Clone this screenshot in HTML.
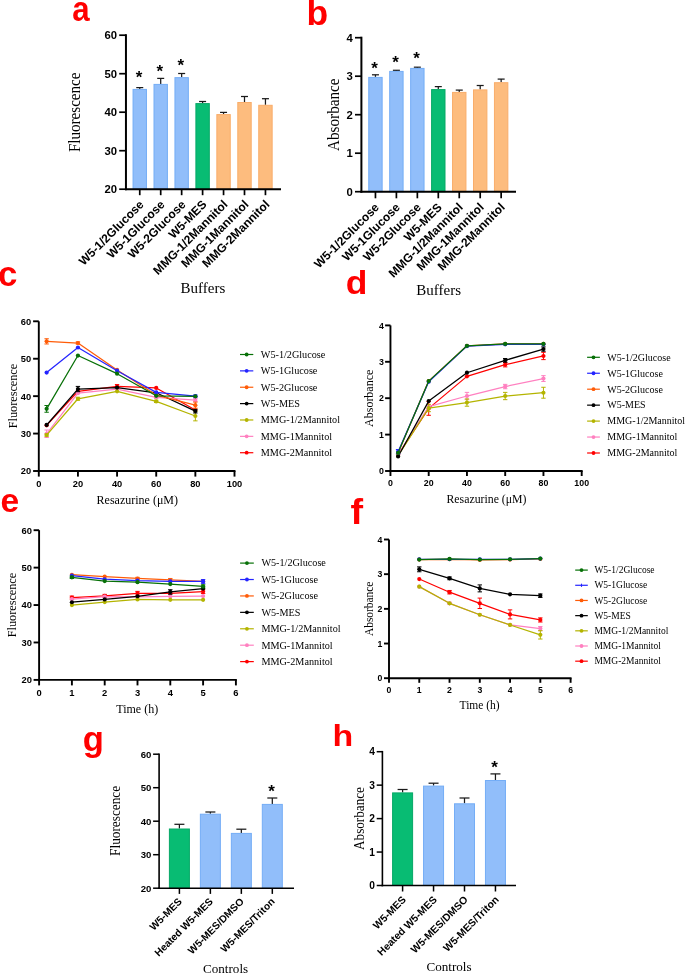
<!DOCTYPE html>
<html><head><meta charset="utf-8"><style>
html,body{margin:0;padding:0;background:#fff;}
body{width:685px;height:974px;overflow:hidden;font-family:"Liberation Sans",sans-serif;}
svg{display:block;will-change:transform;}
</style></head><body>
<svg width="685" height="974" viewBox="0 0 685 974">
<rect width="685" height="974" fill="#fff"/>
<text transform="translate(72.16 20.95) scale(0.8804 1)" x="0" y="0" font-family="Liberation Sans" font-size="35.45" font-weight="bold" fill="#ff0000">a</text>
<line x1="139.75" y1="87.60" x2="139.75" y2="88.90" stroke="#1a1a1a" stroke-width="1.25" stroke-linecap="butt"/>
<line x1="136.25" y1="87.60" x2="143.25" y2="87.60" stroke="#1a1a1a" stroke-width="1.25" stroke-linecap="butt"/>
<rect x="133.05" y="89.40" width="13.40" height="99.80" fill="#91befa" stroke="#74adf6" stroke-width="1"/>
<line x1="160.70" y1="78.40" x2="160.70" y2="83.90" stroke="#1a1a1a" stroke-width="1.25" stroke-linecap="butt"/>
<line x1="157.20" y1="78.40" x2="164.20" y2="78.40" stroke="#1a1a1a" stroke-width="1.25" stroke-linecap="butt"/>
<rect x="154.00" y="84.40" width="13.40" height="104.80" fill="#91befa" stroke="#74adf6" stroke-width="1"/>
<line x1="181.65" y1="73.50" x2="181.65" y2="77.15" stroke="#1a1a1a" stroke-width="1.25" stroke-linecap="butt"/>
<line x1="178.15" y1="73.50" x2="185.15" y2="73.50" stroke="#1a1a1a" stroke-width="1.25" stroke-linecap="butt"/>
<rect x="174.95" y="77.65" width="13.40" height="111.55" fill="#91befa" stroke="#74adf6" stroke-width="1"/>
<line x1="202.60" y1="101.50" x2="202.60" y2="103.10" stroke="#1a1a1a" stroke-width="1.25" stroke-linecap="butt"/>
<line x1="199.10" y1="101.50" x2="206.10" y2="101.50" stroke="#1a1a1a" stroke-width="1.25" stroke-linecap="butt"/>
<rect x="195.90" y="103.60" width="13.40" height="85.60" fill="#08bc73" stroke="#06a866" stroke-width="1"/>
<line x1="223.55" y1="112.40" x2="223.55" y2="114.10" stroke="#1a1a1a" stroke-width="1.25" stroke-linecap="butt"/>
<line x1="220.05" y1="112.40" x2="227.05" y2="112.40" stroke="#1a1a1a" stroke-width="1.25" stroke-linecap="butt"/>
<rect x="216.85" y="114.60" width="13.40" height="74.60" fill="#fdbc7e" stroke="#f9ad6a" stroke-width="1"/>
<line x1="244.50" y1="96.50" x2="244.50" y2="102.00" stroke="#1a1a1a" stroke-width="1.25" stroke-linecap="butt"/>
<line x1="241.00" y1="96.50" x2="248.00" y2="96.50" stroke="#1a1a1a" stroke-width="1.25" stroke-linecap="butt"/>
<rect x="237.80" y="102.50" width="13.40" height="86.70" fill="#fdbc7e" stroke="#f9ad6a" stroke-width="1"/>
<line x1="265.45" y1="98.70" x2="265.45" y2="104.80" stroke="#1a1a1a" stroke-width="1.25" stroke-linecap="butt"/>
<line x1="261.95" y1="98.70" x2="268.95" y2="98.70" stroke="#1a1a1a" stroke-width="1.25" stroke-linecap="butt"/>
<rect x="258.75" y="105.30" width="13.40" height="83.90" fill="#fdbc7e" stroke="#f9ad6a" stroke-width="1"/>
<line x1="125.95" y1="34.20" x2="125.95" y2="190.20" stroke="#000" stroke-width="2" stroke-linecap="butt"/>
<line x1="124.95" y1="189.20" x2="281.00" y2="189.20" stroke="#000" stroke-width="2" stroke-linecap="butt"/>
<line x1="119.20" y1="189.20" x2="125.95" y2="189.20" stroke="#000" stroke-width="1.7" stroke-linecap="butt"/>
<text x="117.00" y="193.27" font-family="'Liberation Sans'" font-size="11.3" font-weight="bold" text-anchor="end" fill="#000">20</text>
<line x1="119.20" y1="150.70" x2="125.95" y2="150.70" stroke="#000" stroke-width="1.7" stroke-linecap="butt"/>
<text x="117.00" y="154.77" font-family="'Liberation Sans'" font-size="11.3" font-weight="bold" text-anchor="end" fill="#000">30</text>
<line x1="119.20" y1="112.20" x2="125.95" y2="112.20" stroke="#000" stroke-width="1.7" stroke-linecap="butt"/>
<text x="117.00" y="116.27" font-family="'Liberation Sans'" font-size="11.3" font-weight="bold" text-anchor="end" fill="#000">40</text>
<line x1="119.20" y1="73.70" x2="125.95" y2="73.70" stroke="#000" stroke-width="1.7" stroke-linecap="butt"/>
<text x="117.00" y="77.77" font-family="'Liberation Sans'" font-size="11.3" font-weight="bold" text-anchor="end" fill="#000">50</text>
<line x1="119.20" y1="35.20" x2="125.95" y2="35.20" stroke="#000" stroke-width="1.7" stroke-linecap="butt"/>
<text x="117.00" y="39.27" font-family="'Liberation Sans'" font-size="11.3" font-weight="bold" text-anchor="end" fill="#000">60</text>
<line x1="139.75" y1="189.20" x2="139.75" y2="195.20" stroke="#000" stroke-width="1.7" stroke-linecap="butt"/>
<text x="138.95" y="82.80" font-family="'Liberation Sans'" font-size="17" font-weight="bold" text-anchor="middle" fill="#000">*</text>
<text x="144.55" y="205.20" font-family="'Liberation Sans'" font-size="12" font-weight="bold" text-anchor="end" fill="#000" transform="rotate(-45 144.55 205.2)">W5-1/2Glucose</text>
<line x1="160.70" y1="189.20" x2="160.70" y2="195.20" stroke="#000" stroke-width="1.7" stroke-linecap="butt"/>
<text x="159.90" y="77.00" font-family="'Liberation Sans'" font-size="17" font-weight="bold" text-anchor="middle" fill="#000">*</text>
<text x="165.50" y="205.20" font-family="'Liberation Sans'" font-size="12" font-weight="bold" text-anchor="end" fill="#000" transform="rotate(-45 165.5 205.2)">W5-1Glucose</text>
<line x1="181.65" y1="189.20" x2="181.65" y2="195.20" stroke="#000" stroke-width="1.7" stroke-linecap="butt"/>
<text x="180.85" y="71.20" font-family="'Liberation Sans'" font-size="17" font-weight="bold" text-anchor="middle" fill="#000">*</text>
<text x="186.45" y="205.20" font-family="'Liberation Sans'" font-size="12" font-weight="bold" text-anchor="end" fill="#000" transform="rotate(-45 186.45000000000002 205.2)">W5-2Glucose</text>
<line x1="202.60" y1="189.20" x2="202.60" y2="195.20" stroke="#000" stroke-width="1.7" stroke-linecap="butt"/>
<text x="207.40" y="205.20" font-family="'Liberation Sans'" font-size="12" font-weight="bold" text-anchor="end" fill="#000" transform="rotate(-45 207.4 205.2)">W5-MES</text>
<line x1="223.55" y1="189.20" x2="223.55" y2="195.20" stroke="#000" stroke-width="1.7" stroke-linecap="butt"/>
<text x="228.35" y="205.20" font-family="'Liberation Sans'" font-size="12" font-weight="bold" text-anchor="end" fill="#000" transform="rotate(-45 228.35000000000002 205.2)">MMG-1/2Mannitol</text>
<line x1="244.50" y1="189.20" x2="244.50" y2="195.20" stroke="#000" stroke-width="1.7" stroke-linecap="butt"/>
<text x="249.30" y="205.20" font-family="'Liberation Sans'" font-size="12" font-weight="bold" text-anchor="end" fill="#000" transform="rotate(-45 249.3 205.2)">MMG-1Mannitol</text>
<line x1="265.45" y1="189.20" x2="265.45" y2="195.20" stroke="#000" stroke-width="1.7" stroke-linecap="butt"/>
<text x="270.25" y="205.20" font-family="'Liberation Sans'" font-size="12" font-weight="bold" text-anchor="end" fill="#000" transform="rotate(-45 270.25 205.2)">MMG-2Mannitol</text>
<text transform="translate(80.00 112.30) scale(1.08 1) rotate(-90)" x="0" y="0" font-family="Liberation Serif" font-size="15.1" text-anchor="middle" fill="#000">Fluorescence</text>
<text x="202.90" y="292.60" font-family="'Liberation Serif'" font-size="15" font-weight="normal" text-anchor="middle" fill="#000">Buffers</text>
<text transform="translate(306.60 24.65) scale(1.0217 1)" x="0" y="0" font-family="Liberation Sans" font-size="34.69" font-weight="bold" fill="#ff0000">b</text>
<line x1="375.45" y1="74.80" x2="375.45" y2="76.90" stroke="#1a1a1a" stroke-width="1.25" stroke-linecap="butt"/>
<line x1="371.95" y1="74.80" x2="378.95" y2="74.80" stroke="#1a1a1a" stroke-width="1.25" stroke-linecap="butt"/>
<rect x="368.75" y="77.40" width="13.40" height="114.30" fill="#91befa" stroke="#74adf6" stroke-width="1"/>
<line x1="396.40" y1="70.30" x2="396.40" y2="70.90" stroke="#1a1a1a" stroke-width="1.25" stroke-linecap="butt"/>
<line x1="392.90" y1="70.30" x2="399.90" y2="70.30" stroke="#1a1a1a" stroke-width="1.25" stroke-linecap="butt"/>
<rect x="389.70" y="71.40" width="13.40" height="120.30" fill="#91befa" stroke="#74adf6" stroke-width="1"/>
<line x1="417.35" y1="67.20" x2="417.35" y2="67.90" stroke="#1a1a1a" stroke-width="1.25" stroke-linecap="butt"/>
<line x1="413.85" y1="67.20" x2="420.85" y2="67.20" stroke="#1a1a1a" stroke-width="1.25" stroke-linecap="butt"/>
<rect x="410.65" y="68.40" width="13.40" height="123.30" fill="#91befa" stroke="#74adf6" stroke-width="1"/>
<line x1="438.30" y1="86.60" x2="438.30" y2="89.10" stroke="#1a1a1a" stroke-width="1.25" stroke-linecap="butt"/>
<line x1="434.80" y1="86.60" x2="441.80" y2="86.60" stroke="#1a1a1a" stroke-width="1.25" stroke-linecap="butt"/>
<rect x="431.60" y="89.60" width="13.40" height="102.10" fill="#08bc73" stroke="#06a866" stroke-width="1"/>
<line x1="459.25" y1="90.10" x2="459.25" y2="91.90" stroke="#1a1a1a" stroke-width="1.25" stroke-linecap="butt"/>
<line x1="455.75" y1="90.10" x2="462.75" y2="90.10" stroke="#1a1a1a" stroke-width="1.25" stroke-linecap="butt"/>
<rect x="452.55" y="92.40" width="13.40" height="99.30" fill="#fdbc7e" stroke="#f9ad6a" stroke-width="1"/>
<line x1="480.20" y1="85.50" x2="480.20" y2="89.40" stroke="#1a1a1a" stroke-width="1.25" stroke-linecap="butt"/>
<line x1="476.70" y1="85.50" x2="483.70" y2="85.50" stroke="#1a1a1a" stroke-width="1.25" stroke-linecap="butt"/>
<rect x="473.50" y="89.90" width="13.40" height="101.80" fill="#fdbc7e" stroke="#f9ad6a" stroke-width="1"/>
<line x1="501.15" y1="79.10" x2="501.15" y2="82.20" stroke="#1a1a1a" stroke-width="1.25" stroke-linecap="butt"/>
<line x1="497.65" y1="79.10" x2="504.65" y2="79.10" stroke="#1a1a1a" stroke-width="1.25" stroke-linecap="butt"/>
<rect x="494.45" y="82.70" width="13.40" height="109.00" fill="#fdbc7e" stroke="#f9ad6a" stroke-width="1"/>
<line x1="361.40" y1="36.70" x2="361.40" y2="192.70" stroke="#000" stroke-width="2" stroke-linecap="butt"/>
<line x1="360.40" y1="191.70" x2="516.00" y2="191.70" stroke="#000" stroke-width="2" stroke-linecap="butt"/>
<line x1="355.00" y1="191.70" x2="361.40" y2="191.70" stroke="#000" stroke-width="1.7" stroke-linecap="butt"/>
<text x="352.80" y="195.77" font-family="'Liberation Sans'" font-size="11.3" font-weight="bold" text-anchor="end" fill="#000">0</text>
<line x1="355.00" y1="153.20" x2="361.40" y2="153.20" stroke="#000" stroke-width="1.7" stroke-linecap="butt"/>
<text x="352.80" y="157.27" font-family="'Liberation Sans'" font-size="11.3" font-weight="bold" text-anchor="end" fill="#000">1</text>
<line x1="355.00" y1="114.70" x2="361.40" y2="114.70" stroke="#000" stroke-width="1.7" stroke-linecap="butt"/>
<text x="352.80" y="118.77" font-family="'Liberation Sans'" font-size="11.3" font-weight="bold" text-anchor="end" fill="#000">2</text>
<line x1="355.00" y1="76.20" x2="361.40" y2="76.20" stroke="#000" stroke-width="1.7" stroke-linecap="butt"/>
<text x="352.80" y="80.27" font-family="'Liberation Sans'" font-size="11.3" font-weight="bold" text-anchor="end" fill="#000">3</text>
<line x1="355.00" y1="37.70" x2="361.40" y2="37.70" stroke="#000" stroke-width="1.7" stroke-linecap="butt"/>
<text x="352.80" y="41.77" font-family="'Liberation Sans'" font-size="11.3" font-weight="bold" text-anchor="end" fill="#000">4</text>
<line x1="375.45" y1="191.70" x2="375.45" y2="198.30" stroke="#000" stroke-width="1.7" stroke-linecap="butt"/>
<text x="374.65" y="73.50" font-family="'Liberation Sans'" font-size="17" font-weight="bold" text-anchor="middle" fill="#000">*</text>
<text x="379.85" y="208.00" font-family="'Liberation Sans'" font-size="12" font-weight="bold" text-anchor="end" fill="#000" transform="rotate(-45 379.84999999999997 208.0)">W5-1/2Glucose</text>
<line x1="396.40" y1="191.70" x2="396.40" y2="198.30" stroke="#000" stroke-width="1.7" stroke-linecap="butt"/>
<text x="395.60" y="68.30" font-family="'Liberation Sans'" font-size="17" font-weight="bold" text-anchor="middle" fill="#000">*</text>
<text x="400.80" y="208.00" font-family="'Liberation Sans'" font-size="12" font-weight="bold" text-anchor="end" fill="#000" transform="rotate(-45 400.79999999999995 208.0)">W5-1Glucose</text>
<line x1="417.35" y1="191.70" x2="417.35" y2="198.30" stroke="#000" stroke-width="1.7" stroke-linecap="butt"/>
<text x="416.55" y="63.50" font-family="'Liberation Sans'" font-size="17" font-weight="bold" text-anchor="middle" fill="#000">*</text>
<text x="421.75" y="208.00" font-family="'Liberation Sans'" font-size="12" font-weight="bold" text-anchor="end" fill="#000" transform="rotate(-45 421.74999999999994 208.0)">W5-2Glucose</text>
<line x1="438.30" y1="191.70" x2="438.30" y2="198.30" stroke="#000" stroke-width="1.7" stroke-linecap="butt"/>
<text x="442.70" y="208.00" font-family="'Liberation Sans'" font-size="12" font-weight="bold" text-anchor="end" fill="#000" transform="rotate(-45 442.69999999999993 208.0)">W5-MES</text>
<line x1="459.25" y1="191.70" x2="459.25" y2="198.30" stroke="#000" stroke-width="1.7" stroke-linecap="butt"/>
<text x="463.65" y="208.00" font-family="'Liberation Sans'" font-size="12" font-weight="bold" text-anchor="end" fill="#000" transform="rotate(-45 463.65 208.0)">MMG-1/2Mannitol</text>
<line x1="480.20" y1="191.70" x2="480.20" y2="198.30" stroke="#000" stroke-width="1.7" stroke-linecap="butt"/>
<text x="484.60" y="208.00" font-family="'Liberation Sans'" font-size="12" font-weight="bold" text-anchor="end" fill="#000" transform="rotate(-45 484.59999999999997 208.0)">MMG-1Mannitol</text>
<line x1="501.15" y1="191.70" x2="501.15" y2="198.30" stroke="#000" stroke-width="1.7" stroke-linecap="butt"/>
<text x="505.55" y="208.00" font-family="'Liberation Sans'" font-size="12" font-weight="bold" text-anchor="end" fill="#000" transform="rotate(-45 505.54999999999995 208.0)">MMG-2Mannitol</text>
<text transform="translate(339.40 114.70) scale(1.08 1) rotate(-90)" x="0" y="0" font-family="Liberation Serif" font-size="15.2" text-anchor="middle" fill="#000">Absorbance</text>
<text x="438.70" y="295.20" font-family="'Liberation Serif'" font-size="15" font-weight="normal" text-anchor="middle" fill="#000">Buffers</text>
<text transform="translate(-2.09 285.85) scale(0.9982 1)" x="0" y="0" font-family="Liberation Sans" font-size="34.91" font-weight="bold" fill="#ff0000">c</text>
<line x1="38.80" y1="321.30" x2="38.80" y2="471.95" stroke="#000" stroke-width="1.9" stroke-linecap="butt"/>
<line x1="37.85" y1="471.00" x2="235.45" y2="471.00" stroke="#000" stroke-width="1.9" stroke-linecap="butt"/>
<line x1="33.10" y1="471.00" x2="38.80" y2="471.00" stroke="#000" stroke-width="1.9" stroke-linecap="butt"/>
<text x="31.10" y="474.35" font-family="'Liberation Sans'" font-size="9.3" font-weight="bold" text-anchor="end" fill="#000">20</text>
<line x1="33.10" y1="433.57" x2="38.80" y2="433.57" stroke="#000" stroke-width="1.9" stroke-linecap="butt"/>
<text x="31.10" y="436.92" font-family="'Liberation Sans'" font-size="9.3" font-weight="bold" text-anchor="end" fill="#000">30</text>
<line x1="33.10" y1="396.15" x2="38.80" y2="396.15" stroke="#000" stroke-width="1.9" stroke-linecap="butt"/>
<text x="31.10" y="399.50" font-family="'Liberation Sans'" font-size="9.3" font-weight="bold" text-anchor="end" fill="#000">40</text>
<line x1="33.10" y1="358.73" x2="38.80" y2="358.73" stroke="#000" stroke-width="1.9" stroke-linecap="butt"/>
<text x="31.10" y="362.07" font-family="'Liberation Sans'" font-size="9.3" font-weight="bold" text-anchor="end" fill="#000">50</text>
<line x1="33.10" y1="321.30" x2="38.80" y2="321.30" stroke="#000" stroke-width="1.9" stroke-linecap="butt"/>
<text x="31.10" y="324.65" font-family="'Liberation Sans'" font-size="9.3" font-weight="bold" text-anchor="end" fill="#000">60</text>
<line x1="38.80" y1="471.00" x2="38.80" y2="476.60" stroke="#000" stroke-width="1.9" stroke-linecap="butt"/>
<text x="38.80" y="486.90" font-family="'Liberation Sans'" font-size="9.3" font-weight="bold" text-anchor="middle" fill="#000">0</text>
<line x1="77.94" y1="471.00" x2="77.94" y2="476.60" stroke="#000" stroke-width="1.9" stroke-linecap="butt"/>
<text x="77.94" y="486.90" font-family="'Liberation Sans'" font-size="9.3" font-weight="bold" text-anchor="middle" fill="#000">20</text>
<line x1="117.08" y1="471.00" x2="117.08" y2="476.60" stroke="#000" stroke-width="1.9" stroke-linecap="butt"/>
<text x="117.08" y="486.90" font-family="'Liberation Sans'" font-size="9.3" font-weight="bold" text-anchor="middle" fill="#000">40</text>
<line x1="156.22" y1="471.00" x2="156.22" y2="476.60" stroke="#000" stroke-width="1.9" stroke-linecap="butt"/>
<text x="156.22" y="486.90" font-family="'Liberation Sans'" font-size="9.3" font-weight="bold" text-anchor="middle" fill="#000">60</text>
<line x1="195.36" y1="471.00" x2="195.36" y2="476.60" stroke="#000" stroke-width="1.9" stroke-linecap="butt"/>
<text x="195.36" y="486.90" font-family="'Liberation Sans'" font-size="9.3" font-weight="bold" text-anchor="middle" fill="#000">80</text>
<line x1="234.50" y1="471.00" x2="234.50" y2="476.60" stroke="#000" stroke-width="1.9" stroke-linecap="butt"/>
<text x="234.50" y="486.90" font-family="'Liberation Sans'" font-size="9.3" font-weight="bold" text-anchor="middle" fill="#000">100</text>
<path d="M46.63,425.34 L77.94,391.28 L117.08,386.42 L156.22,387.92 L195.36,410.00" fill="none" stroke="#ff0000" stroke-width="1.25" stroke-linejoin="round"/>
<circle cx="46.63" cy="425.34" r="2.1" fill="#ff0000"/>
<circle cx="77.94" cy="391.28" r="2.1" fill="#ff0000"/>
<line x1="117.08" y1="384.55" x2="117.08" y2="388.29" stroke="#ff0000" stroke-width="1" stroke-linecap="butt"/>
<line x1="114.88" y1="384.55" x2="119.28" y2="384.55" stroke="#ff0000" stroke-width="1" stroke-linecap="butt"/>
<line x1="114.88" y1="388.29" x2="119.28" y2="388.29" stroke="#ff0000" stroke-width="1" stroke-linecap="butt"/>
<circle cx="117.08" cy="386.42" r="2.1" fill="#ff0000"/>
<circle cx="156.22" cy="387.92" r="2.1" fill="#ff0000"/>
<circle cx="195.36" cy="410.00" r="2.1" fill="#ff0000"/>
<path d="M46.63,433.76 L77.94,393.16 L117.08,389.04 L156.22,397.27 L195.36,400.04" fill="none" stroke="#ff80c0" stroke-width="1.25" stroke-linejoin="round"/>
<line x1="46.63" y1="430.02" x2="46.63" y2="437.50" stroke="#ff80c0" stroke-width="1" stroke-linecap="butt"/>
<line x1="44.43" y1="430.02" x2="48.83" y2="430.02" stroke="#ff80c0" stroke-width="1" stroke-linecap="butt"/>
<line x1="44.43" y1="437.50" x2="48.83" y2="437.50" stroke="#ff80c0" stroke-width="1" stroke-linecap="butt"/>
<circle cx="46.63" cy="433.76" r="2.1" fill="#ff80c0"/>
<circle cx="77.94" cy="393.16" r="2.1" fill="#ff80c0"/>
<circle cx="117.08" cy="389.04" r="2.1" fill="#ff80c0"/>
<line x1="156.22" y1="396.15" x2="156.22" y2="398.40" stroke="#ff80c0" stroke-width="1" stroke-linecap="butt"/>
<line x1="154.02" y1="396.15" x2="158.42" y2="396.15" stroke="#ff80c0" stroke-width="1" stroke-linecap="butt"/>
<line x1="154.02" y1="398.40" x2="158.42" y2="398.40" stroke="#ff80c0" stroke-width="1" stroke-linecap="butt"/>
<circle cx="156.22" cy="397.27" r="2.1" fill="#ff80c0"/>
<line x1="195.36" y1="398.55" x2="195.36" y2="401.54" stroke="#ff80c0" stroke-width="1" stroke-linecap="butt"/>
<line x1="193.16" y1="398.55" x2="197.56" y2="398.55" stroke="#ff80c0" stroke-width="1" stroke-linecap="butt"/>
<line x1="193.16" y1="401.54" x2="197.56" y2="401.54" stroke="#ff80c0" stroke-width="1" stroke-linecap="butt"/>
<circle cx="195.36" cy="400.04" r="2.1" fill="#ff80c0"/>
<path d="M46.63,435.07 L77.94,398.77 L117.08,391.28 L156.22,401.39 L195.36,415.99" fill="none" stroke="#b4b400" stroke-width="1.25" stroke-linejoin="round"/>
<line x1="46.63" y1="433.95" x2="46.63" y2="436.19" stroke="#b4b400" stroke-width="1" stroke-linecap="butt"/>
<line x1="44.43" y1="433.95" x2="48.83" y2="433.95" stroke="#b4b400" stroke-width="1" stroke-linecap="butt"/>
<line x1="44.43" y1="436.19" x2="48.83" y2="436.19" stroke="#b4b400" stroke-width="1" stroke-linecap="butt"/>
<circle cx="46.63" cy="435.07" r="2.1" fill="#b4b400"/>
<line x1="77.94" y1="397.27" x2="77.94" y2="400.27" stroke="#b4b400" stroke-width="1" stroke-linecap="butt"/>
<line x1="75.74" y1="397.27" x2="80.14" y2="397.27" stroke="#b4b400" stroke-width="1" stroke-linecap="butt"/>
<line x1="75.74" y1="400.27" x2="80.14" y2="400.27" stroke="#b4b400" stroke-width="1" stroke-linecap="butt"/>
<circle cx="77.94" cy="398.77" r="2.1" fill="#b4b400"/>
<circle cx="117.08" cy="391.28" r="2.1" fill="#b4b400"/>
<line x1="156.22" y1="400.27" x2="156.22" y2="402.51" stroke="#b4b400" stroke-width="1" stroke-linecap="butt"/>
<line x1="154.02" y1="400.27" x2="158.42" y2="400.27" stroke="#b4b400" stroke-width="1" stroke-linecap="butt"/>
<line x1="154.02" y1="402.51" x2="158.42" y2="402.51" stroke="#b4b400" stroke-width="1" stroke-linecap="butt"/>
<circle cx="156.22" cy="401.39" r="2.1" fill="#b4b400"/>
<line x1="195.36" y1="411.12" x2="195.36" y2="420.85" stroke="#b4b400" stroke-width="1" stroke-linecap="butt"/>
<line x1="193.16" y1="411.12" x2="197.56" y2="411.12" stroke="#b4b400" stroke-width="1" stroke-linecap="butt"/>
<line x1="193.16" y1="420.85" x2="197.56" y2="420.85" stroke="#b4b400" stroke-width="1" stroke-linecap="butt"/>
<circle cx="195.36" cy="415.99" r="2.1" fill="#b4b400"/>
<path d="M46.63,424.97 L77.94,389.04 L117.08,387.54 L156.22,392.78 L195.36,411.12" fill="none" stroke="#000000" stroke-width="1.25" stroke-linejoin="round"/>
<circle cx="46.63" cy="424.97" r="2.1" fill="#000000"/>
<line x1="77.94" y1="386.42" x2="77.94" y2="391.66" stroke="#000000" stroke-width="1" stroke-linecap="butt"/>
<line x1="75.74" y1="386.42" x2="80.14" y2="386.42" stroke="#000000" stroke-width="1" stroke-linecap="butt"/>
<line x1="75.74" y1="391.66" x2="80.14" y2="391.66" stroke="#000000" stroke-width="1" stroke-linecap="butt"/>
<circle cx="77.94" cy="389.04" r="2.1" fill="#000000"/>
<circle cx="117.08" cy="387.54" r="2.1" fill="#000000"/>
<circle cx="156.22" cy="392.78" r="2.1" fill="#000000"/>
<line x1="195.36" y1="409.25" x2="195.36" y2="412.99" stroke="#000000" stroke-width="1" stroke-linecap="butt"/>
<line x1="193.16" y1="409.25" x2="197.56" y2="409.25" stroke="#000000" stroke-width="1" stroke-linecap="butt"/>
<line x1="193.16" y1="412.99" x2="197.56" y2="412.99" stroke="#000000" stroke-width="1" stroke-linecap="butt"/>
<circle cx="195.36" cy="411.12" r="2.1" fill="#000000"/>
<path d="M46.63,341.36 L77.94,343.01 L117.08,369.95 L156.22,395.03 L195.36,405.13" fill="none" stroke="#ff5c08" stroke-width="1.25" stroke-linejoin="round"/>
<line x1="46.63" y1="338.74" x2="46.63" y2="343.98" stroke="#ff5c08" stroke-width="1" stroke-linecap="butt"/>
<line x1="44.43" y1="338.74" x2="48.83" y2="338.74" stroke="#ff5c08" stroke-width="1" stroke-linecap="butt"/>
<line x1="44.43" y1="343.98" x2="48.83" y2="343.98" stroke="#ff5c08" stroke-width="1" stroke-linecap="butt"/>
<circle cx="46.63" cy="341.36" r="2.1" fill="#ff5c08"/>
<line x1="77.94" y1="341.88" x2="77.94" y2="344.13" stroke="#ff5c08" stroke-width="1" stroke-linecap="butt"/>
<line x1="75.74" y1="341.88" x2="80.14" y2="341.88" stroke="#ff5c08" stroke-width="1" stroke-linecap="butt"/>
<line x1="75.74" y1="344.13" x2="80.14" y2="344.13" stroke="#ff5c08" stroke-width="1" stroke-linecap="butt"/>
<circle cx="77.94" cy="343.01" r="2.1" fill="#ff5c08"/>
<circle cx="117.08" cy="369.95" r="2.1" fill="#ff5c08"/>
<circle cx="156.22" cy="395.03" r="2.1" fill="#ff5c08"/>
<line x1="195.36" y1="402.14" x2="195.36" y2="408.13" stroke="#ff5c08" stroke-width="1" stroke-linecap="butt"/>
<line x1="193.16" y1="402.14" x2="197.56" y2="402.14" stroke="#ff5c08" stroke-width="1" stroke-linecap="butt"/>
<line x1="193.16" y1="408.13" x2="197.56" y2="408.13" stroke="#ff5c08" stroke-width="1" stroke-linecap="butt"/>
<circle cx="195.36" cy="405.13" r="2.1" fill="#ff5c08"/>
<path d="M46.63,372.57 L77.94,347.50 L117.08,370.70 L156.22,392.41 L195.36,396.15" fill="none" stroke="#2424ff" stroke-width="1.25" stroke-linejoin="round"/>
<circle cx="46.63" cy="372.57" r="2.1" fill="#2424ff"/>
<circle cx="77.94" cy="347.50" r="2.1" fill="#2424ff"/>
<circle cx="117.08" cy="370.70" r="2.1" fill="#2424ff"/>
<circle cx="156.22" cy="392.41" r="2.1" fill="#2424ff"/>
<line x1="195.36" y1="395.03" x2="195.36" y2="397.27" stroke="#2424ff" stroke-width="1" stroke-linecap="butt"/>
<line x1="193.16" y1="395.03" x2="197.56" y2="395.03" stroke="#2424ff" stroke-width="1" stroke-linecap="butt"/>
<line x1="193.16" y1="397.27" x2="197.56" y2="397.27" stroke="#2424ff" stroke-width="1" stroke-linecap="butt"/>
<circle cx="195.36" cy="396.15" r="2.1" fill="#2424ff"/>
<path d="M46.63,408.87 L77.94,355.54 L117.08,373.69 L156.22,395.78 L195.36,396.34" fill="none" stroke="#077007" stroke-width="1.25" stroke-linejoin="round"/>
<line x1="46.63" y1="405.51" x2="46.63" y2="412.24" stroke="#077007" stroke-width="1" stroke-linecap="butt"/>
<line x1="44.43" y1="405.51" x2="48.83" y2="405.51" stroke="#077007" stroke-width="1" stroke-linecap="butt"/>
<line x1="44.43" y1="412.24" x2="48.83" y2="412.24" stroke="#077007" stroke-width="1" stroke-linecap="butt"/>
<circle cx="46.63" cy="408.87" r="2.1" fill="#077007"/>
<circle cx="77.94" cy="355.54" r="2.1" fill="#077007"/>
<circle cx="117.08" cy="373.69" r="2.1" fill="#077007"/>
<circle cx="156.22" cy="395.78" r="2.1" fill="#077007"/>
<circle cx="195.36" cy="396.34" r="2.1" fill="#077007"/>
<line x1="240.00" y1="354.50" x2="253.30" y2="354.50" stroke="#077007" stroke-width="1.2" stroke-linecap="butt"/>
<circle cx="246.65" cy="354.50" r="1.9" fill="#077007"/>
<text x="260.80" y="357.87" font-family="'Liberation Serif'" font-size="10.2" font-weight="normal" text-anchor="start" fill="#000">W5-1/2Glucose</text>
<line x1="240.00" y1="370.87" x2="253.30" y2="370.87" stroke="#2424ff" stroke-width="1.2" stroke-linecap="butt"/>
<circle cx="246.65" cy="370.87" r="1.9" fill="#2424ff"/>
<text x="260.80" y="374.24" font-family="'Liberation Serif'" font-size="10.2" font-weight="normal" text-anchor="start" fill="#000">W5-1Glucose</text>
<line x1="240.00" y1="387.24" x2="253.30" y2="387.24" stroke="#ff5c08" stroke-width="1.2" stroke-linecap="butt"/>
<circle cx="246.65" cy="387.24" r="1.9" fill="#ff5c08"/>
<text x="260.80" y="390.61" font-family="'Liberation Serif'" font-size="10.2" font-weight="normal" text-anchor="start" fill="#000">W5-2Glucose</text>
<line x1="240.00" y1="403.61" x2="253.30" y2="403.61" stroke="#000000" stroke-width="1.2" stroke-linecap="butt"/>
<circle cx="246.65" cy="403.61" r="1.9" fill="#000000"/>
<text x="260.80" y="406.98" font-family="'Liberation Serif'" font-size="10.2" font-weight="normal" text-anchor="start" fill="#000">W5-MES</text>
<line x1="240.00" y1="419.98" x2="253.30" y2="419.98" stroke="#b4b400" stroke-width="1.2" stroke-linecap="butt"/>
<circle cx="246.65" cy="419.98" r="1.9" fill="#b4b400"/>
<text x="260.80" y="423.35" font-family="'Liberation Serif'" font-size="10.2" font-weight="normal" text-anchor="start" fill="#000">MMG-1/2Mannitol</text>
<line x1="240.00" y1="436.35" x2="253.30" y2="436.35" stroke="#ff80c0" stroke-width="1.2" stroke-linecap="butt"/>
<circle cx="246.65" cy="436.35" r="1.9" fill="#ff80c0"/>
<text x="260.80" y="439.72" font-family="'Liberation Serif'" font-size="10.2" font-weight="normal" text-anchor="start" fill="#000">MMG-1Mannitol</text>
<line x1="240.00" y1="452.72" x2="253.30" y2="452.72" stroke="#ff0000" stroke-width="1.2" stroke-linecap="butt"/>
<circle cx="246.65" cy="452.72" r="1.9" fill="#ff0000"/>
<text x="260.80" y="456.09" font-family="'Liberation Serif'" font-size="10.2" font-weight="normal" text-anchor="start" fill="#000">MMG-2Mannitol</text>
<text transform="translate(16.90 396.00) scale(1.08 1) rotate(-90)" x="0" y="0" font-family="Liberation Serif" font-size="12.2" text-anchor="middle" fill="#000">Fluorescence</text>
<text x="137.30" y="503.60" font-family="'Liberation Serif'" font-size="12" font-weight="normal" text-anchor="middle" fill="#000">Resazurine (μM)</text>
<text transform="translate(345.68 293.66) scale(1.0463 1)" x="0" y="0" font-family="Liberation Sans" font-size="33.88" font-weight="bold" fill="#ff0000">d</text>
<line x1="390.45" y1="325.40" x2="390.45" y2="471.95" stroke="#000" stroke-width="1.9" stroke-linecap="butt"/>
<line x1="389.50" y1="471.00" x2="582.65" y2="471.00" stroke="#000" stroke-width="1.9" stroke-linecap="butt"/>
<line x1="385.10" y1="471.00" x2="390.45" y2="471.00" stroke="#000" stroke-width="1.9" stroke-linecap="butt"/>
<text x="383.90" y="474.17" font-family="'Liberation Sans'" font-size="8.8" font-weight="bold" text-anchor="end" fill="#000">0</text>
<line x1="385.10" y1="434.60" x2="390.45" y2="434.60" stroke="#000" stroke-width="1.9" stroke-linecap="butt"/>
<text x="383.90" y="437.77" font-family="'Liberation Sans'" font-size="8.8" font-weight="bold" text-anchor="end" fill="#000">1</text>
<line x1="385.10" y1="398.20" x2="390.45" y2="398.20" stroke="#000" stroke-width="1.9" stroke-linecap="butt"/>
<text x="383.90" y="401.37" font-family="'Liberation Sans'" font-size="8.8" font-weight="bold" text-anchor="end" fill="#000">2</text>
<line x1="385.10" y1="361.80" x2="390.45" y2="361.80" stroke="#000" stroke-width="1.9" stroke-linecap="butt"/>
<text x="383.90" y="364.97" font-family="'Liberation Sans'" font-size="8.8" font-weight="bold" text-anchor="end" fill="#000">3</text>
<line x1="385.10" y1="325.40" x2="390.45" y2="325.40" stroke="#000" stroke-width="1.9" stroke-linecap="butt"/>
<text x="383.90" y="328.57" font-family="'Liberation Sans'" font-size="8.8" font-weight="bold" text-anchor="end" fill="#000">4</text>
<line x1="390.45" y1="471.00" x2="390.45" y2="476.00" stroke="#000" stroke-width="1.9" stroke-linecap="butt"/>
<text x="390.45" y="486.00" font-family="'Liberation Sans'" font-size="8.8" font-weight="bold" text-anchor="middle" fill="#000">0</text>
<line x1="428.70" y1="471.00" x2="428.70" y2="476.00" stroke="#000" stroke-width="1.9" stroke-linecap="butt"/>
<text x="428.70" y="486.00" font-family="'Liberation Sans'" font-size="8.8" font-weight="bold" text-anchor="middle" fill="#000">20</text>
<line x1="466.95" y1="471.00" x2="466.95" y2="476.00" stroke="#000" stroke-width="1.9" stroke-linecap="butt"/>
<text x="466.95" y="486.00" font-family="'Liberation Sans'" font-size="8.8" font-weight="bold" text-anchor="middle" fill="#000">40</text>
<line x1="505.20" y1="471.00" x2="505.20" y2="476.00" stroke="#000" stroke-width="1.9" stroke-linecap="butt"/>
<text x="505.20" y="486.00" font-family="'Liberation Sans'" font-size="8.8" font-weight="bold" text-anchor="middle" fill="#000">60</text>
<line x1="543.45" y1="471.00" x2="543.45" y2="476.00" stroke="#000" stroke-width="1.9" stroke-linecap="butt"/>
<text x="543.45" y="486.00" font-family="'Liberation Sans'" font-size="8.8" font-weight="bold" text-anchor="middle" fill="#000">80</text>
<line x1="581.70" y1="471.00" x2="581.70" y2="476.00" stroke="#000" stroke-width="1.9" stroke-linecap="butt"/>
<text x="581.70" y="486.00" font-family="'Liberation Sans'" font-size="8.8" font-weight="bold" text-anchor="middle" fill="#000">100</text>
<path d="M398.10,454.62 L428.70,408.39 L466.95,376.36 L505.20,364.71 L543.45,355.98" fill="none" stroke="#ff0000" stroke-width="1.25" stroke-linejoin="round"/>
<circle cx="398.10" cy="454.62" r="2.1" fill="#ff0000"/>
<line x1="428.70" y1="401.48" x2="428.70" y2="415.31" stroke="#ff0000" stroke-width="1" stroke-linecap="butt"/>
<line x1="426.50" y1="401.48" x2="430.90" y2="401.48" stroke="#ff0000" stroke-width="1" stroke-linecap="butt"/>
<line x1="426.50" y1="415.31" x2="430.90" y2="415.31" stroke="#ff0000" stroke-width="1" stroke-linecap="butt"/>
<circle cx="428.70" cy="408.39" r="2.1" fill="#ff0000"/>
<circle cx="466.95" cy="376.36" r="2.1" fill="#ff0000"/>
<line x1="505.20" y1="362.53" x2="505.20" y2="366.90" stroke="#ff0000" stroke-width="1" stroke-linecap="butt"/>
<line x1="503.00" y1="362.53" x2="507.40" y2="362.53" stroke="#ff0000" stroke-width="1" stroke-linecap="butt"/>
<line x1="503.00" y1="366.90" x2="507.40" y2="366.90" stroke="#ff0000" stroke-width="1" stroke-linecap="butt"/>
<circle cx="505.20" cy="364.71" r="2.1" fill="#ff0000"/>
<line x1="543.45" y1="352.34" x2="543.45" y2="359.62" stroke="#ff0000" stroke-width="1" stroke-linecap="butt"/>
<line x1="541.25" y1="352.34" x2="545.65" y2="352.34" stroke="#ff0000" stroke-width="1" stroke-linecap="butt"/>
<line x1="541.25" y1="359.62" x2="545.65" y2="359.62" stroke="#ff0000" stroke-width="1" stroke-linecap="butt"/>
<circle cx="543.45" cy="355.98" r="2.1" fill="#ff0000"/>
<path d="M398.10,454.62 L428.70,406.57 L466.95,396.02 L505.20,386.55 L543.45,378.54" fill="none" stroke="#ff80c0" stroke-width="1.25" stroke-linejoin="round"/>
<circle cx="398.10" cy="454.62" r="2.1" fill="#ff80c0"/>
<circle cx="428.70" cy="406.57" r="2.1" fill="#ff80c0"/>
<line x1="466.95" y1="392.38" x2="466.95" y2="399.66" stroke="#ff80c0" stroke-width="1" stroke-linecap="butt"/>
<line x1="464.75" y1="392.38" x2="469.15" y2="392.38" stroke="#ff80c0" stroke-width="1" stroke-linecap="butt"/>
<line x1="464.75" y1="399.66" x2="469.15" y2="399.66" stroke="#ff80c0" stroke-width="1" stroke-linecap="butt"/>
<circle cx="466.95" cy="396.02" r="2.1" fill="#ff80c0"/>
<line x1="505.20" y1="384.37" x2="505.20" y2="388.74" stroke="#ff80c0" stroke-width="1" stroke-linecap="butt"/>
<line x1="503.00" y1="384.37" x2="507.40" y2="384.37" stroke="#ff80c0" stroke-width="1" stroke-linecap="butt"/>
<line x1="503.00" y1="388.74" x2="507.40" y2="388.74" stroke="#ff80c0" stroke-width="1" stroke-linecap="butt"/>
<circle cx="505.20" cy="386.55" r="2.1" fill="#ff80c0"/>
<line x1="543.45" y1="375.63" x2="543.45" y2="381.46" stroke="#ff80c0" stroke-width="1" stroke-linecap="butt"/>
<line x1="541.25" y1="375.63" x2="545.65" y2="375.63" stroke="#ff80c0" stroke-width="1" stroke-linecap="butt"/>
<line x1="541.25" y1="381.46" x2="545.65" y2="381.46" stroke="#ff80c0" stroke-width="1" stroke-linecap="butt"/>
<circle cx="543.45" cy="378.54" r="2.1" fill="#ff80c0"/>
<path d="M398.10,455.71 L428.70,408.03 L466.95,402.57 L505.20,396.02 L543.45,392.74" fill="none" stroke="#b4b400" stroke-width="1.25" stroke-linejoin="round"/>
<circle cx="398.10" cy="455.71" r="2.1" fill="#b4b400"/>
<line x1="428.70" y1="404.39" x2="428.70" y2="411.67" stroke="#b4b400" stroke-width="1" stroke-linecap="butt"/>
<line x1="426.50" y1="404.39" x2="430.90" y2="404.39" stroke="#b4b400" stroke-width="1" stroke-linecap="butt"/>
<line x1="426.50" y1="411.67" x2="430.90" y2="411.67" stroke="#b4b400" stroke-width="1" stroke-linecap="butt"/>
<circle cx="428.70" cy="408.03" r="2.1" fill="#b4b400"/>
<line x1="466.95" y1="398.93" x2="466.95" y2="406.21" stroke="#b4b400" stroke-width="1" stroke-linecap="butt"/>
<line x1="464.75" y1="398.93" x2="469.15" y2="398.93" stroke="#b4b400" stroke-width="1" stroke-linecap="butt"/>
<line x1="464.75" y1="406.21" x2="469.15" y2="406.21" stroke="#b4b400" stroke-width="1" stroke-linecap="butt"/>
<circle cx="466.95" cy="402.57" r="2.1" fill="#b4b400"/>
<line x1="505.20" y1="392.38" x2="505.20" y2="399.66" stroke="#b4b400" stroke-width="1" stroke-linecap="butt"/>
<line x1="503.00" y1="392.38" x2="507.40" y2="392.38" stroke="#b4b400" stroke-width="1" stroke-linecap="butt"/>
<line x1="503.00" y1="399.66" x2="507.40" y2="399.66" stroke="#b4b400" stroke-width="1" stroke-linecap="butt"/>
<circle cx="505.20" cy="396.02" r="2.1" fill="#b4b400"/>
<line x1="543.45" y1="387.28" x2="543.45" y2="398.20" stroke="#b4b400" stroke-width="1" stroke-linecap="butt"/>
<line x1="541.25" y1="387.28" x2="545.65" y2="387.28" stroke="#b4b400" stroke-width="1" stroke-linecap="butt"/>
<line x1="541.25" y1="398.20" x2="545.65" y2="398.20" stroke="#b4b400" stroke-width="1" stroke-linecap="butt"/>
<circle cx="543.45" cy="392.74" r="2.1" fill="#b4b400"/>
<path d="M398.10,456.44 L428.70,401.11 L466.95,372.72 L505.20,360.34 L543.45,349.06" fill="none" stroke="#000000" stroke-width="1.25" stroke-linejoin="round"/>
<circle cx="398.10" cy="456.44" r="2.1" fill="#000000"/>
<circle cx="428.70" cy="401.11" r="2.1" fill="#000000"/>
<circle cx="466.95" cy="372.72" r="2.1" fill="#000000"/>
<line x1="505.20" y1="358.52" x2="505.20" y2="362.16" stroke="#000000" stroke-width="1" stroke-linecap="butt"/>
<line x1="503.00" y1="358.52" x2="507.40" y2="358.52" stroke="#000000" stroke-width="1" stroke-linecap="butt"/>
<line x1="503.00" y1="362.16" x2="507.40" y2="362.16" stroke="#000000" stroke-width="1" stroke-linecap="butt"/>
<circle cx="505.20" cy="360.34" r="2.1" fill="#000000"/>
<line x1="543.45" y1="346.88" x2="543.45" y2="351.24" stroke="#000000" stroke-width="1" stroke-linecap="butt"/>
<line x1="541.25" y1="346.88" x2="545.65" y2="346.88" stroke="#000000" stroke-width="1" stroke-linecap="butt"/>
<line x1="541.25" y1="351.24" x2="545.65" y2="351.24" stroke="#000000" stroke-width="1" stroke-linecap="butt"/>
<circle cx="543.45" cy="349.06" r="2.1" fill="#000000"/>
<path d="M398.10,452.80 L428.70,381.09 L466.95,345.78 L505.20,343.96 L543.45,343.96" fill="none" stroke="#ff5c08" stroke-width="1.25" stroke-linejoin="round"/>
<circle cx="398.10" cy="452.80" r="2.1" fill="#ff5c08"/>
<circle cx="428.70" cy="381.09" r="2.1" fill="#ff5c08"/>
<circle cx="466.95" cy="345.78" r="2.1" fill="#ff5c08"/>
<circle cx="505.20" cy="343.96" r="2.1" fill="#ff5c08"/>
<circle cx="543.45" cy="343.96" r="2.1" fill="#ff5c08"/>
<path d="M398.10,451.71 L428.70,381.82 L466.95,346.15 L505.20,344.33 L543.45,344.33" fill="none" stroke="#2424ff" stroke-width="1.25" stroke-linejoin="round"/>
<line x1="398.10" y1="449.52" x2="398.10" y2="453.89" stroke="#2424ff" stroke-width="1" stroke-linecap="butt"/>
<line x1="395.90" y1="449.52" x2="400.30" y2="449.52" stroke="#2424ff" stroke-width="1" stroke-linecap="butt"/>
<line x1="395.90" y1="453.89" x2="400.30" y2="453.89" stroke="#2424ff" stroke-width="1" stroke-linecap="butt"/>
<circle cx="398.10" cy="451.71" r="2.1" fill="#2424ff"/>
<circle cx="428.70" cy="381.82" r="2.1" fill="#2424ff"/>
<circle cx="466.95" cy="346.15" r="2.1" fill="#2424ff"/>
<circle cx="505.20" cy="344.33" r="2.1" fill="#2424ff"/>
<circle cx="543.45" cy="344.33" r="2.1" fill="#2424ff"/>
<path d="M398.10,452.80 L428.70,381.09 L466.95,345.78 L505.20,343.96 L543.45,343.96" fill="none" stroke="#077007" stroke-width="1.25" stroke-linejoin="round"/>
<circle cx="398.10" cy="452.80" r="2.1" fill="#077007"/>
<circle cx="428.70" cy="381.09" r="2.1" fill="#077007"/>
<circle cx="466.95" cy="345.78" r="2.1" fill="#077007"/>
<circle cx="505.20" cy="343.96" r="2.1" fill="#077007"/>
<circle cx="543.45" cy="343.96" r="2.1" fill="#077007"/>
<line x1="587.10" y1="357.30" x2="599.90" y2="357.30" stroke="#077007" stroke-width="1.2" stroke-linecap="butt"/>
<circle cx="593.50" cy="357.30" r="1.9" fill="#077007"/>
<text x="607.30" y="360.60" font-family="'Liberation Serif'" font-size="10.0" font-weight="normal" text-anchor="start" fill="#000">W5-1/2Glucose</text>
<line x1="587.10" y1="373.25" x2="599.90" y2="373.25" stroke="#2424ff" stroke-width="1.2" stroke-linecap="butt"/>
<circle cx="593.50" cy="373.25" r="1.9" fill="#2424ff"/>
<text x="607.30" y="376.55" font-family="'Liberation Serif'" font-size="10.0" font-weight="normal" text-anchor="start" fill="#000">W5-1Glucose</text>
<line x1="587.10" y1="389.20" x2="599.90" y2="389.20" stroke="#ff5c08" stroke-width="1.2" stroke-linecap="butt"/>
<circle cx="593.50" cy="389.20" r="1.9" fill="#ff5c08"/>
<text x="607.30" y="392.50" font-family="'Liberation Serif'" font-size="10.0" font-weight="normal" text-anchor="start" fill="#000">W5-2Glucose</text>
<line x1="587.10" y1="405.15" x2="599.90" y2="405.15" stroke="#000000" stroke-width="1.2" stroke-linecap="butt"/>
<circle cx="593.50" cy="405.15" r="1.9" fill="#000000"/>
<text x="607.30" y="408.45" font-family="'Liberation Serif'" font-size="10.0" font-weight="normal" text-anchor="start" fill="#000">W5-MES</text>
<line x1="587.10" y1="421.10" x2="599.90" y2="421.10" stroke="#b4b400" stroke-width="1.2" stroke-linecap="butt"/>
<circle cx="593.50" cy="421.10" r="1.9" fill="#b4b400"/>
<text x="607.30" y="424.40" font-family="'Liberation Serif'" font-size="10.0" font-weight="normal" text-anchor="start" fill="#000">MMG-1/2Mannitol</text>
<line x1="587.10" y1="437.05" x2="599.90" y2="437.05" stroke="#ff80c0" stroke-width="1.2" stroke-linecap="butt"/>
<circle cx="593.50" cy="437.05" r="1.9" fill="#ff80c0"/>
<text x="607.30" y="440.35" font-family="'Liberation Serif'" font-size="10.0" font-weight="normal" text-anchor="start" fill="#000">MMG-1Mannitol</text>
<line x1="587.10" y1="453.00" x2="599.90" y2="453.00" stroke="#ff0000" stroke-width="1.2" stroke-linecap="butt"/>
<circle cx="593.50" cy="453.00" r="1.9" fill="#ff0000"/>
<text x="607.30" y="456.30" font-family="'Liberation Serif'" font-size="10.0" font-weight="normal" text-anchor="start" fill="#000">MMG-2Mannitol</text>
<text transform="translate(373.00 398.30) scale(1.08 1) rotate(-90)" x="0" y="0" font-family="Liberation Serif" font-size="12" text-anchor="middle" fill="#000">Absorbance</text>
<text x="486.50" y="503.20" font-family="'Liberation Serif'" font-size="11.8" font-weight="normal" text-anchor="middle" fill="#000">Resazurine (μM)</text>
<text transform="translate(0.46 511.86) scale(0.9918 1)" x="0" y="0" font-family="Liberation Sans" font-size="33.82" font-weight="bold" fill="#ff0000">e</text>
<line x1="39.10" y1="530.20" x2="39.10" y2="680.85" stroke="#000" stroke-width="1.9" stroke-linecap="butt"/>
<line x1="38.15" y1="679.90" x2="236.85" y2="679.90" stroke="#000" stroke-width="1.9" stroke-linecap="butt"/>
<line x1="33.60" y1="679.90" x2="39.10" y2="679.90" stroke="#000" stroke-width="1.9" stroke-linecap="butt"/>
<text x="32.00" y="683.28" font-family="'Liberation Sans'" font-size="9.4" font-weight="bold" text-anchor="end" fill="#000">20</text>
<line x1="33.60" y1="642.48" x2="39.10" y2="642.48" stroke="#000" stroke-width="1.9" stroke-linecap="butt"/>
<text x="32.00" y="645.86" font-family="'Liberation Sans'" font-size="9.4" font-weight="bold" text-anchor="end" fill="#000">30</text>
<line x1="33.60" y1="605.05" x2="39.10" y2="605.05" stroke="#000" stroke-width="1.9" stroke-linecap="butt"/>
<text x="32.00" y="608.43" font-family="'Liberation Sans'" font-size="9.4" font-weight="bold" text-anchor="end" fill="#000">40</text>
<line x1="33.60" y1="567.62" x2="39.10" y2="567.62" stroke="#000" stroke-width="1.9" stroke-linecap="butt"/>
<text x="32.00" y="571.01" font-family="'Liberation Sans'" font-size="9.4" font-weight="bold" text-anchor="end" fill="#000">50</text>
<line x1="33.60" y1="530.20" x2="39.10" y2="530.20" stroke="#000" stroke-width="1.9" stroke-linecap="butt"/>
<text x="32.00" y="533.58" font-family="'Liberation Sans'" font-size="9.4" font-weight="bold" text-anchor="end" fill="#000">60</text>
<line x1="39.10" y1="679.90" x2="39.10" y2="685.40" stroke="#000" stroke-width="1.9" stroke-linecap="butt"/>
<text x="39.10" y="695.70" font-family="'Liberation Sans'" font-size="9.4" font-weight="bold" text-anchor="middle" fill="#000">0</text>
<line x1="71.90" y1="679.90" x2="71.90" y2="685.40" stroke="#000" stroke-width="1.9" stroke-linecap="butt"/>
<text x="71.90" y="695.70" font-family="'Liberation Sans'" font-size="9.4" font-weight="bold" text-anchor="middle" fill="#000">1</text>
<line x1="104.70" y1="679.90" x2="104.70" y2="685.40" stroke="#000" stroke-width="1.9" stroke-linecap="butt"/>
<text x="104.70" y="695.70" font-family="'Liberation Sans'" font-size="9.4" font-weight="bold" text-anchor="middle" fill="#000">2</text>
<line x1="137.50" y1="679.90" x2="137.50" y2="685.40" stroke="#000" stroke-width="1.9" stroke-linecap="butt"/>
<text x="137.50" y="695.70" font-family="'Liberation Sans'" font-size="9.4" font-weight="bold" text-anchor="middle" fill="#000">3</text>
<line x1="170.30" y1="679.90" x2="170.30" y2="685.40" stroke="#000" stroke-width="1.9" stroke-linecap="butt"/>
<text x="170.30" y="695.70" font-family="'Liberation Sans'" font-size="9.4" font-weight="bold" text-anchor="middle" fill="#000">4</text>
<line x1="203.10" y1="679.90" x2="203.10" y2="685.40" stroke="#000" stroke-width="1.9" stroke-linecap="butt"/>
<text x="203.10" y="695.70" font-family="'Liberation Sans'" font-size="9.4" font-weight="bold" text-anchor="middle" fill="#000">5</text>
<line x1="235.90" y1="679.90" x2="235.90" y2="685.40" stroke="#000" stroke-width="1.9" stroke-linecap="butt"/>
<text x="235.90" y="695.70" font-family="'Liberation Sans'" font-size="9.4" font-weight="bold" text-anchor="middle" fill="#000">6</text>
<path d="M71.90,597.57 L104.70,595.88 L137.50,593.26 L170.30,593.26 L203.10,591.58" fill="none" stroke="#ff0000" stroke-width="1.25" stroke-linejoin="round"/>
<line x1="71.90" y1="596.07" x2="71.90" y2="599.06" stroke="#ff0000" stroke-width="1" stroke-linecap="butt"/>
<line x1="69.70" y1="596.07" x2="74.10" y2="596.07" stroke="#ff0000" stroke-width="1" stroke-linecap="butt"/>
<line x1="69.70" y1="599.06" x2="74.10" y2="599.06" stroke="#ff0000" stroke-width="1" stroke-linecap="butt"/>
<circle cx="71.90" cy="597.57" r="2.1" fill="#ff0000"/>
<line x1="104.70" y1="594.38" x2="104.70" y2="597.38" stroke="#ff0000" stroke-width="1" stroke-linecap="butt"/>
<line x1="102.50" y1="594.38" x2="106.90" y2="594.38" stroke="#ff0000" stroke-width="1" stroke-linecap="butt"/>
<line x1="102.50" y1="597.38" x2="106.90" y2="597.38" stroke="#ff0000" stroke-width="1" stroke-linecap="butt"/>
<circle cx="104.70" cy="595.88" r="2.1" fill="#ff0000"/>
<line x1="137.50" y1="591.39" x2="137.50" y2="595.13" stroke="#ff0000" stroke-width="1" stroke-linecap="butt"/>
<line x1="135.30" y1="591.39" x2="139.70" y2="591.39" stroke="#ff0000" stroke-width="1" stroke-linecap="butt"/>
<line x1="135.30" y1="595.13" x2="139.70" y2="595.13" stroke="#ff0000" stroke-width="1" stroke-linecap="butt"/>
<circle cx="137.50" cy="593.26" r="2.1" fill="#ff0000"/>
<circle cx="170.30" cy="593.26" r="2.1" fill="#ff0000"/>
<line x1="203.10" y1="589.71" x2="203.10" y2="593.45" stroke="#ff0000" stroke-width="1" stroke-linecap="butt"/>
<line x1="200.90" y1="589.71" x2="205.30" y2="589.71" stroke="#ff0000" stroke-width="1" stroke-linecap="butt"/>
<line x1="200.90" y1="593.45" x2="205.30" y2="593.45" stroke="#ff0000" stroke-width="1" stroke-linecap="butt"/>
<circle cx="203.10" cy="591.58" r="2.1" fill="#ff0000"/>
<path d="M71.90,599.06 L104.70,596.63 L137.50,596.82 L170.30,596.44 L203.10,596.07" fill="none" stroke="#ff80c0" stroke-width="1.25" stroke-linejoin="round"/>
<circle cx="71.90" cy="599.06" r="2.1" fill="#ff80c0"/>
<circle cx="104.70" cy="596.63" r="2.1" fill="#ff80c0"/>
<circle cx="137.50" cy="596.82" r="2.1" fill="#ff80c0"/>
<circle cx="170.30" cy="596.44" r="2.1" fill="#ff80c0"/>
<circle cx="203.10" cy="596.07" r="2.1" fill="#ff80c0"/>
<path d="M71.90,605.05 L104.70,602.06 L137.50,599.44 L170.30,599.81 L203.10,599.81" fill="none" stroke="#b4b400" stroke-width="1.25" stroke-linejoin="round"/>
<circle cx="71.90" cy="605.05" r="2.1" fill="#b4b400"/>
<circle cx="104.70" cy="602.06" r="2.1" fill="#b4b400"/>
<circle cx="137.50" cy="599.44" r="2.1" fill="#b4b400"/>
<circle cx="170.30" cy="599.81" r="2.1" fill="#b4b400"/>
<circle cx="203.10" cy="599.81" r="2.1" fill="#b4b400"/>
<path d="M71.90,602.24 L104.70,599.44 L137.50,596.26 L170.30,591.95 L203.10,588.58" fill="none" stroke="#000000" stroke-width="1.25" stroke-linejoin="round"/>
<circle cx="71.90" cy="602.24" r="2.1" fill="#000000"/>
<circle cx="104.70" cy="599.44" r="2.1" fill="#000000"/>
<circle cx="137.50" cy="596.26" r="2.1" fill="#000000"/>
<line x1="170.30" y1="589.71" x2="170.30" y2="594.20" stroke="#000000" stroke-width="1" stroke-linecap="butt"/>
<line x1="168.10" y1="589.71" x2="172.50" y2="589.71" stroke="#000000" stroke-width="1" stroke-linecap="butt"/>
<line x1="168.10" y1="594.20" x2="172.50" y2="594.20" stroke="#000000" stroke-width="1" stroke-linecap="butt"/>
<circle cx="170.30" cy="591.95" r="2.1" fill="#000000"/>
<circle cx="203.10" cy="588.58" r="2.1" fill="#000000"/>
<path d="M71.90,574.74 L104.70,576.61 L137.50,578.48 L170.30,579.98 L203.10,581.47" fill="none" stroke="#ff5c08" stroke-width="1.25" stroke-linejoin="round"/>
<circle cx="71.90" cy="574.74" r="2.1" fill="#ff5c08"/>
<circle cx="104.70" cy="576.61" r="2.1" fill="#ff5c08"/>
<line x1="137.50" y1="577.36" x2="137.50" y2="579.60" stroke="#ff5c08" stroke-width="1" stroke-linecap="butt"/>
<line x1="135.30" y1="577.36" x2="139.70" y2="577.36" stroke="#ff5c08" stroke-width="1" stroke-linecap="butt"/>
<line x1="135.30" y1="579.60" x2="139.70" y2="579.60" stroke="#ff5c08" stroke-width="1" stroke-linecap="butt"/>
<circle cx="137.50" cy="578.48" r="2.1" fill="#ff5c08"/>
<line x1="170.30" y1="578.48" x2="170.30" y2="581.47" stroke="#ff5c08" stroke-width="1" stroke-linecap="butt"/>
<line x1="168.10" y1="578.48" x2="172.50" y2="578.48" stroke="#ff5c08" stroke-width="1" stroke-linecap="butt"/>
<line x1="168.10" y1="581.47" x2="172.50" y2="581.47" stroke="#ff5c08" stroke-width="1" stroke-linecap="butt"/>
<circle cx="170.30" cy="579.98" r="2.1" fill="#ff5c08"/>
<circle cx="203.10" cy="581.47" r="2.1" fill="#ff5c08"/>
<path d="M71.90,575.67 L104.70,579.23 L137.50,580.72 L170.30,581.47 L203.10,581.47" fill="none" stroke="#2424ff" stroke-width="1.25" stroke-linejoin="round"/>
<circle cx="71.90" cy="575.67" r="2.1" fill="#2424ff"/>
<circle cx="104.70" cy="579.23" r="2.1" fill="#2424ff"/>
<circle cx="137.50" cy="580.72" r="2.1" fill="#2424ff"/>
<circle cx="170.30" cy="581.47" r="2.1" fill="#2424ff"/>
<line x1="203.10" y1="579.60" x2="203.10" y2="583.34" stroke="#2424ff" stroke-width="1" stroke-linecap="butt"/>
<line x1="200.90" y1="579.60" x2="205.30" y2="579.60" stroke="#2424ff" stroke-width="1" stroke-linecap="butt"/>
<line x1="200.90" y1="583.34" x2="205.30" y2="583.34" stroke="#2424ff" stroke-width="1" stroke-linecap="butt"/>
<circle cx="203.10" cy="581.47" r="2.1" fill="#2424ff"/>
<path d="M71.90,577.36 L104.70,581.10 L137.50,582.22 L170.30,584.09 L203.10,586.34" fill="none" stroke="#077007" stroke-width="1.25" stroke-linejoin="round"/>
<line x1="71.90" y1="576.23" x2="71.90" y2="578.48" stroke="#077007" stroke-width="1" stroke-linecap="butt"/>
<line x1="69.70" y1="576.23" x2="74.10" y2="576.23" stroke="#077007" stroke-width="1" stroke-linecap="butt"/>
<line x1="69.70" y1="578.48" x2="74.10" y2="578.48" stroke="#077007" stroke-width="1" stroke-linecap="butt"/>
<circle cx="71.90" cy="577.36" r="2.1" fill="#077007"/>
<circle cx="104.70" cy="581.10" r="2.1" fill="#077007"/>
<circle cx="137.50" cy="582.22" r="2.1" fill="#077007"/>
<circle cx="170.30" cy="584.09" r="2.1" fill="#077007"/>
<line x1="203.10" y1="584.84" x2="203.10" y2="587.83" stroke="#077007" stroke-width="1" stroke-linecap="butt"/>
<line x1="200.90" y1="584.84" x2="205.30" y2="584.84" stroke="#077007" stroke-width="1" stroke-linecap="butt"/>
<line x1="200.90" y1="587.83" x2="205.30" y2="587.83" stroke="#077007" stroke-width="1" stroke-linecap="butt"/>
<circle cx="203.10" cy="586.34" r="2.1" fill="#077007"/>
<line x1="240.10" y1="563.10" x2="253.80" y2="563.10" stroke="#077007" stroke-width="1.2" stroke-linecap="butt"/>
<circle cx="246.95" cy="563.10" r="1.9" fill="#077007"/>
<text x="261.40" y="566.47" font-family="'Liberation Serif'" font-size="10.2" font-weight="normal" text-anchor="start" fill="#000">W5-1/2Glucose</text>
<line x1="240.10" y1="579.52" x2="253.80" y2="579.52" stroke="#2424ff" stroke-width="1.2" stroke-linecap="butt"/>
<circle cx="246.95" cy="579.52" r="1.9" fill="#2424ff"/>
<text x="261.40" y="582.89" font-family="'Liberation Serif'" font-size="10.2" font-weight="normal" text-anchor="start" fill="#000">W5-1Glucose</text>
<line x1="240.10" y1="595.94" x2="253.80" y2="595.94" stroke="#ff5c08" stroke-width="1.2" stroke-linecap="butt"/>
<circle cx="246.95" cy="595.94" r="1.9" fill="#ff5c08"/>
<text x="261.40" y="599.31" font-family="'Liberation Serif'" font-size="10.2" font-weight="normal" text-anchor="start" fill="#000">W5-2Glucose</text>
<line x1="240.10" y1="612.36" x2="253.80" y2="612.36" stroke="#000000" stroke-width="1.2" stroke-linecap="butt"/>
<circle cx="246.95" cy="612.36" r="1.9" fill="#000000"/>
<text x="261.40" y="615.73" font-family="'Liberation Serif'" font-size="10.2" font-weight="normal" text-anchor="start" fill="#000">W5-MES</text>
<line x1="240.10" y1="628.78" x2="253.80" y2="628.78" stroke="#b4b400" stroke-width="1.2" stroke-linecap="butt"/>
<circle cx="246.95" cy="628.78" r="1.9" fill="#b4b400"/>
<text x="261.40" y="632.15" font-family="'Liberation Serif'" font-size="10.2" font-weight="normal" text-anchor="start" fill="#000">MMG-1/2Mannitol</text>
<line x1="240.10" y1="645.20" x2="253.80" y2="645.20" stroke="#ff80c0" stroke-width="1.2" stroke-linecap="butt"/>
<circle cx="246.95" cy="645.20" r="1.9" fill="#ff80c0"/>
<text x="261.40" y="648.57" font-family="'Liberation Serif'" font-size="10.2" font-weight="normal" text-anchor="start" fill="#000">MMG-1Mannitol</text>
<line x1="240.10" y1="661.62" x2="253.80" y2="661.62" stroke="#ff0000" stroke-width="1.2" stroke-linecap="butt"/>
<circle cx="246.95" cy="661.62" r="1.9" fill="#ff0000"/>
<text x="261.40" y="664.99" font-family="'Liberation Serif'" font-size="10.2" font-weight="normal" text-anchor="start" fill="#000">MMG-2Mannitol</text>
<text transform="translate(16.40 605.00) scale(1.08 1) rotate(-90)" x="0" y="0" font-family="Liberation Serif" font-size="12.2" text-anchor="middle" fill="#000">Fluorescence</text>
<text x="137.20" y="713.00" font-family="'Liberation Serif'" font-size="12" font-weight="normal" text-anchor="middle" fill="#000">Time (h)</text>
<text transform="translate(350.43 523.73) scale(1.1041 1)" x="0" y="0" font-family="Liberation Sans" font-size="34.25" font-weight="bold" fill="#ff0000">f</text>
<line x1="389.00" y1="539.50" x2="389.00" y2="679.15" stroke="#000" stroke-width="1.9" stroke-linecap="butt"/>
<line x1="388.05" y1="678.20" x2="571.55" y2="678.20" stroke="#000" stroke-width="1.9" stroke-linecap="butt"/>
<line x1="384.00" y1="678.20" x2="389.00" y2="678.20" stroke="#000" stroke-width="1.9" stroke-linecap="butt"/>
<text x="382.30" y="681.33" font-family="'Liberation Sans'" font-size="8.7" font-weight="bold" text-anchor="end" fill="#000">0</text>
<line x1="384.00" y1="643.53" x2="389.00" y2="643.53" stroke="#000" stroke-width="1.9" stroke-linecap="butt"/>
<text x="382.30" y="646.66" font-family="'Liberation Sans'" font-size="8.7" font-weight="bold" text-anchor="end" fill="#000">1</text>
<line x1="384.00" y1="608.85" x2="389.00" y2="608.85" stroke="#000" stroke-width="1.9" stroke-linecap="butt"/>
<text x="382.30" y="611.98" font-family="'Liberation Sans'" font-size="8.7" font-weight="bold" text-anchor="end" fill="#000">2</text>
<line x1="384.00" y1="574.17" x2="389.00" y2="574.17" stroke="#000" stroke-width="1.9" stroke-linecap="butt"/>
<text x="382.30" y="577.31" font-family="'Liberation Sans'" font-size="8.7" font-weight="bold" text-anchor="end" fill="#000">3</text>
<line x1="384.00" y1="539.50" x2="389.00" y2="539.50" stroke="#000" stroke-width="1.9" stroke-linecap="butt"/>
<text x="382.30" y="542.63" font-family="'Liberation Sans'" font-size="8.7" font-weight="bold" text-anchor="end" fill="#000">4</text>
<line x1="389.00" y1="678.20" x2="389.00" y2="682.80" stroke="#000" stroke-width="1.9" stroke-linecap="butt"/>
<text x="389.00" y="692.90" font-family="'Liberation Sans'" font-size="8.7" font-weight="bold" text-anchor="middle" fill="#000">0</text>
<line x1="419.27" y1="678.20" x2="419.27" y2="682.80" stroke="#000" stroke-width="1.9" stroke-linecap="butt"/>
<text x="419.27" y="692.90" font-family="'Liberation Sans'" font-size="8.7" font-weight="bold" text-anchor="middle" fill="#000">1</text>
<line x1="449.53" y1="678.20" x2="449.53" y2="682.80" stroke="#000" stroke-width="1.9" stroke-linecap="butt"/>
<text x="449.53" y="692.90" font-family="'Liberation Sans'" font-size="8.7" font-weight="bold" text-anchor="middle" fill="#000">2</text>
<line x1="479.80" y1="678.20" x2="479.80" y2="682.80" stroke="#000" stroke-width="1.9" stroke-linecap="butt"/>
<text x="479.80" y="692.90" font-family="'Liberation Sans'" font-size="8.7" font-weight="bold" text-anchor="middle" fill="#000">3</text>
<line x1="510.07" y1="678.20" x2="510.07" y2="682.80" stroke="#000" stroke-width="1.9" stroke-linecap="butt"/>
<text x="510.07" y="692.90" font-family="'Liberation Sans'" font-size="8.7" font-weight="bold" text-anchor="middle" fill="#000">4</text>
<line x1="540.33" y1="678.20" x2="540.33" y2="682.80" stroke="#000" stroke-width="1.9" stroke-linecap="butt"/>
<text x="540.33" y="692.90" font-family="'Liberation Sans'" font-size="8.7" font-weight="bold" text-anchor="middle" fill="#000">5</text>
<line x1="570.60" y1="678.20" x2="570.60" y2="682.80" stroke="#000" stroke-width="1.9" stroke-linecap="butt"/>
<text x="570.60" y="692.90" font-family="'Liberation Sans'" font-size="8.7" font-weight="bold" text-anchor="middle" fill="#000">6</text>
<path d="M419.27,579.03 L449.53,592.21 L479.80,603.30 L510.07,614.40 L540.33,619.95" fill="none" stroke="#ff0000" stroke-width="1.25" stroke-linejoin="round"/>
<circle cx="419.27" cy="579.03" r="2.1" fill="#ff0000"/>
<line x1="449.53" y1="590.47" x2="449.53" y2="593.94" stroke="#ff0000" stroke-width="1" stroke-linecap="butt"/>
<line x1="447.33" y1="590.47" x2="451.73" y2="590.47" stroke="#ff0000" stroke-width="1" stroke-linecap="butt"/>
<line x1="447.33" y1="593.94" x2="451.73" y2="593.94" stroke="#ff0000" stroke-width="1" stroke-linecap="butt"/>
<circle cx="449.53" cy="592.21" r="2.1" fill="#ff0000"/>
<line x1="479.80" y1="598.10" x2="479.80" y2="608.50" stroke="#ff0000" stroke-width="1" stroke-linecap="butt"/>
<line x1="477.60" y1="598.10" x2="482.00" y2="598.10" stroke="#ff0000" stroke-width="1" stroke-linecap="butt"/>
<line x1="477.60" y1="608.50" x2="482.00" y2="608.50" stroke="#ff0000" stroke-width="1" stroke-linecap="butt"/>
<circle cx="479.80" cy="603.30" r="2.1" fill="#ff0000"/>
<line x1="510.07" y1="609.89" x2="510.07" y2="618.91" stroke="#ff0000" stroke-width="1" stroke-linecap="butt"/>
<line x1="507.87" y1="609.89" x2="512.27" y2="609.89" stroke="#ff0000" stroke-width="1" stroke-linecap="butt"/>
<line x1="507.87" y1="618.91" x2="512.27" y2="618.91" stroke="#ff0000" stroke-width="1" stroke-linecap="butt"/>
<circle cx="510.07" cy="614.40" r="2.1" fill="#ff0000"/>
<line x1="540.33" y1="617.87" x2="540.33" y2="622.03" stroke="#ff0000" stroke-width="1" stroke-linecap="butt"/>
<line x1="538.13" y1="617.87" x2="542.53" y2="617.87" stroke="#ff0000" stroke-width="1" stroke-linecap="butt"/>
<line x1="538.13" y1="622.03" x2="542.53" y2="622.03" stroke="#ff0000" stroke-width="1" stroke-linecap="butt"/>
<circle cx="540.33" cy="619.95" r="2.1" fill="#ff0000"/>
<path d="M419.27,586.66 L449.53,603.30 L479.80,614.74 L510.07,624.97 L540.33,628.61" fill="none" stroke="#ff80c0" stroke-width="1.25" stroke-linejoin="round"/>
<circle cx="419.27" cy="586.66" r="2.1" fill="#ff80c0"/>
<line x1="449.53" y1="602.26" x2="449.53" y2="604.34" stroke="#ff80c0" stroke-width="1" stroke-linecap="butt"/>
<line x1="447.33" y1="602.26" x2="451.73" y2="602.26" stroke="#ff80c0" stroke-width="1" stroke-linecap="butt"/>
<line x1="447.33" y1="604.34" x2="451.73" y2="604.34" stroke="#ff80c0" stroke-width="1" stroke-linecap="butt"/>
<circle cx="449.53" cy="603.30" r="2.1" fill="#ff80c0"/>
<circle cx="479.80" cy="614.74" r="2.1" fill="#ff80c0"/>
<circle cx="510.07" cy="624.97" r="2.1" fill="#ff80c0"/>
<line x1="540.33" y1="626.53" x2="540.33" y2="630.70" stroke="#ff80c0" stroke-width="1" stroke-linecap="butt"/>
<line x1="538.13" y1="626.53" x2="542.53" y2="626.53" stroke="#ff80c0" stroke-width="1" stroke-linecap="butt"/>
<line x1="538.13" y1="630.70" x2="542.53" y2="630.70" stroke="#ff80c0" stroke-width="1" stroke-linecap="butt"/>
<circle cx="540.33" cy="628.61" r="2.1" fill="#ff80c0"/>
<path d="M419.27,586.66 L449.53,603.30 L479.80,614.74 L510.07,624.97 L540.33,634.86" fill="none" stroke="#b4b400" stroke-width="1.25" stroke-linejoin="round"/>
<circle cx="419.27" cy="586.66" r="2.1" fill="#b4b400"/>
<circle cx="449.53" cy="603.30" r="2.1" fill="#b4b400"/>
<circle cx="479.80" cy="614.74" r="2.1" fill="#b4b400"/>
<circle cx="510.07" cy="624.97" r="2.1" fill="#b4b400"/>
<line x1="540.33" y1="630.70" x2="540.33" y2="639.02" stroke="#b4b400" stroke-width="1" stroke-linecap="butt"/>
<line x1="538.13" y1="630.70" x2="542.53" y2="630.70" stroke="#b4b400" stroke-width="1" stroke-linecap="butt"/>
<line x1="538.13" y1="639.02" x2="542.53" y2="639.02" stroke="#b4b400" stroke-width="1" stroke-linecap="butt"/>
<circle cx="540.33" cy="634.86" r="2.1" fill="#b4b400"/>
<path d="M419.27,569.32 L449.53,578.34 L479.80,588.39 L510.07,594.29 L540.33,595.67" fill="none" stroke="#000000" stroke-width="1.25" stroke-linejoin="round"/>
<line x1="419.27" y1="566.89" x2="419.27" y2="571.75" stroke="#000000" stroke-width="1" stroke-linecap="butt"/>
<line x1="417.07" y1="566.89" x2="421.47" y2="566.89" stroke="#000000" stroke-width="1" stroke-linecap="butt"/>
<line x1="417.07" y1="571.75" x2="421.47" y2="571.75" stroke="#000000" stroke-width="1" stroke-linecap="butt"/>
<circle cx="419.27" cy="569.32" r="2.1" fill="#000000"/>
<line x1="449.53" y1="576.95" x2="449.53" y2="579.72" stroke="#000000" stroke-width="1" stroke-linecap="butt"/>
<line x1="447.33" y1="576.95" x2="451.73" y2="576.95" stroke="#000000" stroke-width="1" stroke-linecap="butt"/>
<line x1="447.33" y1="579.72" x2="451.73" y2="579.72" stroke="#000000" stroke-width="1" stroke-linecap="butt"/>
<circle cx="449.53" cy="578.34" r="2.1" fill="#000000"/>
<line x1="479.80" y1="584.92" x2="479.80" y2="591.86" stroke="#000000" stroke-width="1" stroke-linecap="butt"/>
<line x1="477.60" y1="584.92" x2="482.00" y2="584.92" stroke="#000000" stroke-width="1" stroke-linecap="butt"/>
<line x1="477.60" y1="591.86" x2="482.00" y2="591.86" stroke="#000000" stroke-width="1" stroke-linecap="butt"/>
<circle cx="479.80" cy="588.39" r="2.1" fill="#000000"/>
<circle cx="510.07" cy="594.29" r="2.1" fill="#000000"/>
<line x1="540.33" y1="593.94" x2="540.33" y2="597.41" stroke="#000000" stroke-width="1" stroke-linecap="butt"/>
<line x1="538.13" y1="593.94" x2="542.53" y2="593.94" stroke="#000000" stroke-width="1" stroke-linecap="butt"/>
<line x1="538.13" y1="597.41" x2="542.53" y2="597.41" stroke="#000000" stroke-width="1" stroke-linecap="butt"/>
<circle cx="540.33" cy="595.67" r="2.1" fill="#000000"/>
<path d="M419.27,559.61 L449.53,559.26 L479.80,559.96 L510.07,559.61 L540.33,558.92" fill="none" stroke="#ff5c08" stroke-width="1.25" stroke-linejoin="round"/>
<circle cx="419.27" cy="559.61" r="2.1" fill="#ff5c08"/>
<circle cx="449.53" cy="559.26" r="2.1" fill="#ff5c08"/>
<circle cx="479.80" cy="559.96" r="2.1" fill="#ff5c08"/>
<circle cx="510.07" cy="559.61" r="2.1" fill="#ff5c08"/>
<circle cx="540.33" cy="558.92" r="2.1" fill="#ff5c08"/>
<path d="M419.27,559.26 L449.53,559.26 L479.80,559.26 L510.07,559.26 L540.33,558.57" fill="none" stroke="#2424ff" stroke-width="1.25" stroke-linejoin="round"/>
<circle cx="419.27" cy="559.26" r="2.1" fill="#2424ff"/>
<circle cx="449.53" cy="559.26" r="2.1" fill="#2424ff"/>
<circle cx="479.80" cy="559.26" r="2.1" fill="#2424ff"/>
<circle cx="510.07" cy="559.26" r="2.1" fill="#2424ff"/>
<circle cx="540.33" cy="558.57" r="2.1" fill="#2424ff"/>
<path d="M419.27,559.61 L449.53,558.92 L479.80,559.61 L510.07,559.26 L540.33,558.57" fill="none" stroke="#077007" stroke-width="1.25" stroke-linejoin="round"/>
<circle cx="419.27" cy="559.61" r="2.1" fill="#077007"/>
<circle cx="449.53" cy="558.92" r="2.1" fill="#077007"/>
<circle cx="479.80" cy="559.61" r="2.1" fill="#077007"/>
<circle cx="510.07" cy="559.26" r="2.1" fill="#077007"/>
<circle cx="540.33" cy="558.57" r="2.1" fill="#077007"/>
<line x1="575.20" y1="570.10" x2="587.80" y2="570.10" stroke="#077007" stroke-width="1.2" stroke-linecap="butt"/>
<circle cx="581.50" cy="570.10" r="1.9" fill="#077007"/>
<text x="594.40" y="573.24" font-family="'Liberation Serif'" font-size="9.5" font-weight="normal" text-anchor="start" fill="#000">W5-1/2Glucose</text>
<line x1="575.20" y1="585.28" x2="587.80" y2="585.28" stroke="#2424ff" stroke-width="1.2" stroke-linecap="butt"/>
<line x1="581.50" y1="583.68" x2="581.50" y2="586.88" stroke="#2424ff" stroke-width="1.1" stroke-linecap="butt"/>
<text x="594.40" y="588.41" font-family="'Liberation Serif'" font-size="9.5" font-weight="normal" text-anchor="start" fill="#000">W5-1Glucose</text>
<line x1="575.20" y1="600.46" x2="587.80" y2="600.46" stroke="#ff5c08" stroke-width="1.2" stroke-linecap="butt"/>
<circle cx="581.50" cy="600.46" r="1.9" fill="#ff5c08"/>
<text x="594.40" y="603.60" font-family="'Liberation Serif'" font-size="9.5" font-weight="normal" text-anchor="start" fill="#000">W5-2Glucose</text>
<line x1="575.20" y1="615.64" x2="587.80" y2="615.64" stroke="#000000" stroke-width="1.2" stroke-linecap="butt"/>
<circle cx="581.50" cy="615.64" r="1.9" fill="#000000"/>
<text x="594.40" y="618.77" font-family="'Liberation Serif'" font-size="9.5" font-weight="normal" text-anchor="start" fill="#000">W5-MES</text>
<line x1="575.20" y1="630.82" x2="587.80" y2="630.82" stroke="#b4b400" stroke-width="1.2" stroke-linecap="butt"/>
<circle cx="581.50" cy="630.82" r="1.9" fill="#b4b400"/>
<text x="594.40" y="633.96" font-family="'Liberation Serif'" font-size="9.5" font-weight="normal" text-anchor="start" fill="#000">MMG-1/2Mannitol</text>
<line x1="575.20" y1="646.00" x2="587.80" y2="646.00" stroke="#ff80c0" stroke-width="1.2" stroke-linecap="butt"/>
<circle cx="581.50" cy="646.00" r="1.9" fill="#ff80c0"/>
<text x="594.40" y="649.13" font-family="'Liberation Serif'" font-size="9.5" font-weight="normal" text-anchor="start" fill="#000">MMG-1Mannitol</text>
<line x1="575.20" y1="661.18" x2="587.80" y2="661.18" stroke="#ff0000" stroke-width="1.2" stroke-linecap="butt"/>
<circle cx="581.50" cy="661.18" r="1.9" fill="#ff0000"/>
<text x="594.40" y="664.32" font-family="'Liberation Serif'" font-size="9.5" font-weight="normal" text-anchor="start" fill="#000">MMG-2Mannitol</text>
<text transform="translate(372.80 608.80) scale(1.08 1) rotate(-90)" x="0" y="0" font-family="Liberation Serif" font-size="11.4" text-anchor="middle" fill="#000">Absorbance</text>
<text x="479.60" y="709.30" font-family="'Liberation Serif'" font-size="11.5" font-weight="normal" text-anchor="middle" fill="#000">Time (h)</text>
<text transform="translate(82.71 750.71) scale(0.9948 1)" x="0" y="0" font-family="Liberation Sans" font-size="34.83" font-weight="bold" fill="#ff0000">g</text>
<line x1="179.40" y1="824.30" x2="179.40" y2="828.50" stroke="#1a1a1a" stroke-width="1.25" stroke-linecap="butt"/>
<line x1="174.40" y1="824.30" x2="184.40" y2="824.30" stroke="#1a1a1a" stroke-width="1.25" stroke-linecap="butt"/>
<rect x="169.40" y="829.00" width="20.00" height="59.20" fill="#08bc73" stroke="#06a866" stroke-width="1"/>
<line x1="210.37" y1="812.00" x2="210.37" y2="813.70" stroke="#1a1a1a" stroke-width="1.25" stroke-linecap="butt"/>
<line x1="205.37" y1="812.00" x2="215.37" y2="812.00" stroke="#1a1a1a" stroke-width="1.25" stroke-linecap="butt"/>
<rect x="200.37" y="814.20" width="20.00" height="74.00" fill="#91befa" stroke="#74adf6" stroke-width="1"/>
<line x1="241.34" y1="829.20" x2="241.34" y2="832.90" stroke="#1a1a1a" stroke-width="1.25" stroke-linecap="butt"/>
<line x1="236.34" y1="829.20" x2="246.34" y2="829.20" stroke="#1a1a1a" stroke-width="1.25" stroke-linecap="butt"/>
<rect x="231.34" y="833.40" width="20.00" height="54.80" fill="#91befa" stroke="#74adf6" stroke-width="1"/>
<line x1="272.31" y1="798.00" x2="272.31" y2="803.90" stroke="#1a1a1a" stroke-width="1.25" stroke-linecap="butt"/>
<line x1="267.31" y1="798.00" x2="277.31" y2="798.00" stroke="#1a1a1a" stroke-width="1.25" stroke-linecap="butt"/>
<rect x="262.31" y="804.40" width="20.00" height="83.80" fill="#91befa" stroke="#74adf6" stroke-width="1"/>
<line x1="159.10" y1="753.40" x2="159.10" y2="889.00" stroke="#000" stroke-width="1.6" stroke-linecap="butt"/>
<line x1="158.30" y1="888.20" x2="294.00" y2="888.20" stroke="#000" stroke-width="1.6" stroke-linecap="butt"/>
<line x1="153.10" y1="888.20" x2="159.10" y2="888.20" stroke="#000" stroke-width="1.5" stroke-linecap="butt"/>
<text x="151.30" y="891.66" font-family="'Liberation Sans'" font-size="9.6" font-weight="bold" text-anchor="end" fill="#000">20</text>
<line x1="153.10" y1="854.70" x2="159.10" y2="854.70" stroke="#000" stroke-width="1.5" stroke-linecap="butt"/>
<text x="151.30" y="858.16" font-family="'Liberation Sans'" font-size="9.6" font-weight="bold" text-anchor="end" fill="#000">30</text>
<line x1="153.10" y1="821.20" x2="159.10" y2="821.20" stroke="#000" stroke-width="1.5" stroke-linecap="butt"/>
<text x="151.30" y="824.66" font-family="'Liberation Sans'" font-size="9.6" font-weight="bold" text-anchor="end" fill="#000">40</text>
<line x1="153.10" y1="787.70" x2="159.10" y2="787.70" stroke="#000" stroke-width="1.5" stroke-linecap="butt"/>
<text x="151.30" y="791.16" font-family="'Liberation Sans'" font-size="9.6" font-weight="bold" text-anchor="end" fill="#000">50</text>
<line x1="153.10" y1="754.20" x2="159.10" y2="754.20" stroke="#000" stroke-width="1.5" stroke-linecap="butt"/>
<text x="151.30" y="757.66" font-family="'Liberation Sans'" font-size="9.6" font-weight="bold" text-anchor="end" fill="#000">60</text>
<line x1="179.40" y1="888.20" x2="179.40" y2="893.90" stroke="#000" stroke-width="1.5" stroke-linecap="butt"/>
<text x="182.60" y="902.20" font-family="'Liberation Sans'" font-size="10.2" font-weight="bold" text-anchor="end" fill="#000" transform="rotate(-45 182.6 902.2)">W5-MES</text>
<line x1="210.37" y1="888.20" x2="210.37" y2="893.90" stroke="#000" stroke-width="1.5" stroke-linecap="butt"/>
<text x="213.57" y="902.20" font-family="'Liberation Sans'" font-size="10.2" font-weight="bold" text-anchor="end" fill="#000" transform="rotate(-45 213.57 902.2)">Heated W5-MES</text>
<line x1="241.34" y1="888.20" x2="241.34" y2="893.90" stroke="#000" stroke-width="1.5" stroke-linecap="butt"/>
<text x="244.54" y="902.20" font-family="'Liberation Sans'" font-size="10.2" font-weight="bold" text-anchor="end" fill="#000" transform="rotate(-45 244.54 902.2)">W5-MES/DMSO</text>
<line x1="272.31" y1="888.20" x2="272.31" y2="893.90" stroke="#000" stroke-width="1.5" stroke-linecap="butt"/>
<text x="271.51" y="797.00" font-family="'Liberation Sans'" font-size="17" font-weight="bold" text-anchor="middle" fill="#000">*</text>
<text x="275.51" y="902.20" font-family="'Liberation Sans'" font-size="10.2" font-weight="bold" text-anchor="end" fill="#000" transform="rotate(-45 275.51 902.2)">W5-MES/Triton</text>
<text transform="translate(120.20 820.90) scale(1.08 1) rotate(-90)" x="0" y="0" font-family="Liberation Serif" font-size="13.3" text-anchor="middle" fill="#000">Fluorescence</text>
<text x="225.60" y="973.00" font-family="'Liberation Serif'" font-size="13.1" font-weight="normal" text-anchor="middle" fill="#000">Controls</text>
<text transform="translate(332.62 745.85) scale(1.1166 1)" x="0" y="0" font-family="Liberation Sans" font-size="30.41" font-weight="bold" fill="#ff0000">h</text>
<line x1="402.60" y1="789.50" x2="402.60" y2="792.40" stroke="#1a1a1a" stroke-width="1.25" stroke-linecap="butt"/>
<line x1="397.60" y1="789.50" x2="407.60" y2="789.50" stroke="#1a1a1a" stroke-width="1.25" stroke-linecap="butt"/>
<rect x="392.60" y="792.90" width="20.00" height="92.60" fill="#08bc73" stroke="#06a866" stroke-width="1"/>
<line x1="433.55" y1="783.20" x2="433.55" y2="785.60" stroke="#1a1a1a" stroke-width="1.25" stroke-linecap="butt"/>
<line x1="428.55" y1="783.20" x2="438.55" y2="783.20" stroke="#1a1a1a" stroke-width="1.25" stroke-linecap="butt"/>
<rect x="423.55" y="786.10" width="20.00" height="99.40" fill="#91befa" stroke="#74adf6" stroke-width="1"/>
<line x1="464.50" y1="798.00" x2="464.50" y2="803.30" stroke="#1a1a1a" stroke-width="1.25" stroke-linecap="butt"/>
<line x1="459.50" y1="798.00" x2="469.50" y2="798.00" stroke="#1a1a1a" stroke-width="1.25" stroke-linecap="butt"/>
<rect x="454.50" y="803.80" width="20.00" height="81.70" fill="#91befa" stroke="#74adf6" stroke-width="1"/>
<line x1="495.45" y1="773.90" x2="495.45" y2="780.00" stroke="#1a1a1a" stroke-width="1.25" stroke-linecap="butt"/>
<line x1="490.45" y1="773.90" x2="500.45" y2="773.90" stroke="#1a1a1a" stroke-width="1.25" stroke-linecap="butt"/>
<rect x="485.45" y="780.50" width="20.00" height="105.00" fill="#91befa" stroke="#74adf6" stroke-width="1"/>
<line x1="382.40" y1="750.90" x2="382.40" y2="886.30" stroke="#000" stroke-width="1.6" stroke-linecap="butt"/>
<line x1="381.60" y1="885.50" x2="516.00" y2="885.50" stroke="#000" stroke-width="1.6" stroke-linecap="butt"/>
<line x1="376.70" y1="885.50" x2="382.40" y2="885.50" stroke="#000" stroke-width="1.5" stroke-linecap="butt"/>
<text x="374.90" y="889.17" font-family="'Liberation Sans'" font-size="10.2" font-weight="bold" text-anchor="end" fill="#000">0</text>
<line x1="376.70" y1="852.05" x2="382.40" y2="852.05" stroke="#000" stroke-width="1.5" stroke-linecap="butt"/>
<text x="374.90" y="855.72" font-family="'Liberation Sans'" font-size="10.2" font-weight="bold" text-anchor="end" fill="#000">1</text>
<line x1="376.70" y1="818.60" x2="382.40" y2="818.60" stroke="#000" stroke-width="1.5" stroke-linecap="butt"/>
<text x="374.90" y="822.27" font-family="'Liberation Sans'" font-size="10.2" font-weight="bold" text-anchor="end" fill="#000">2</text>
<line x1="376.70" y1="785.15" x2="382.40" y2="785.15" stroke="#000" stroke-width="1.5" stroke-linecap="butt"/>
<text x="374.90" y="788.82" font-family="'Liberation Sans'" font-size="10.2" font-weight="bold" text-anchor="end" fill="#000">3</text>
<line x1="376.70" y1="751.70" x2="382.40" y2="751.70" stroke="#000" stroke-width="1.5" stroke-linecap="butt"/>
<text x="374.90" y="755.37" font-family="'Liberation Sans'" font-size="10.2" font-weight="bold" text-anchor="end" fill="#000">4</text>
<line x1="402.60" y1="885.50" x2="402.60" y2="891.50" stroke="#000" stroke-width="1.5" stroke-linecap="butt"/>
<text x="406.60" y="900.30" font-family="'Liberation Sans'" font-size="10.4" font-weight="bold" text-anchor="end" fill="#000" transform="rotate(-45 406.6 900.3)">W5-MES</text>
<line x1="433.55" y1="885.50" x2="433.55" y2="891.50" stroke="#000" stroke-width="1.5" stroke-linecap="butt"/>
<text x="437.55" y="900.30" font-family="'Liberation Sans'" font-size="10.4" font-weight="bold" text-anchor="end" fill="#000" transform="rotate(-45 437.55 900.3)">Heated W5-MES</text>
<line x1="464.50" y1="885.50" x2="464.50" y2="891.50" stroke="#000" stroke-width="1.5" stroke-linecap="butt"/>
<text x="468.50" y="900.30" font-family="'Liberation Sans'" font-size="10.4" font-weight="bold" text-anchor="end" fill="#000" transform="rotate(-45 468.5 900.3)">W5-MES/DMSO</text>
<line x1="495.45" y1="885.50" x2="495.45" y2="891.50" stroke="#000" stroke-width="1.5" stroke-linecap="butt"/>
<text x="494.65" y="773.00" font-family="'Liberation Sans'" font-size="17" font-weight="bold" text-anchor="middle" fill="#000">*</text>
<text x="499.45" y="900.30" font-family="'Liberation Sans'" font-size="10.4" font-weight="bold" text-anchor="end" fill="#000" transform="rotate(-45 499.45000000000005 900.3)">W5-MES/Triton</text>
<text transform="translate(363.50 818.50) scale(1.08 1) rotate(-90)" x="0" y="0" font-family="Liberation Serif" font-size="13.2" text-anchor="middle" fill="#000">Absorbance</text>
<text x="449.00" y="971.10" font-family="'Liberation Serif'" font-size="13.1" font-weight="normal" text-anchor="middle" fill="#000">Controls</text>
</svg>
</body></html>
